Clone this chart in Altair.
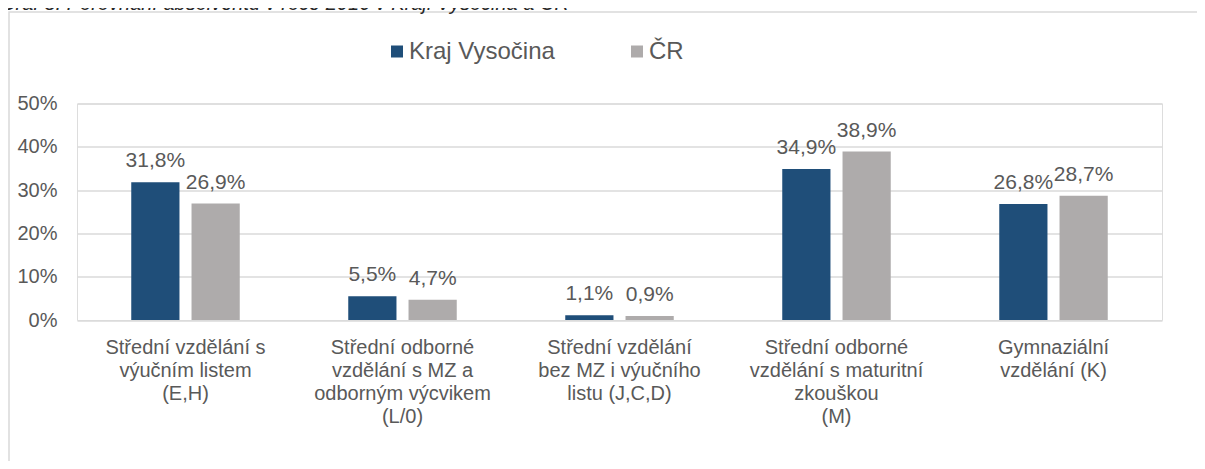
import altair as alt
import pandas as pd

# ---- data ----
categories = [
    "Střední vzdělání s|výučním listem|(E,H)",
    "Střední odborné|vzdělání s MZ a|odborným výcvikem|(L/0)",
    "Střední vzdělání|bez MZ i výučního|listu (J,C,D)",
    "Střední odborné|vzdělání s maturitní|zkouškou|(M)",
    "Gymnaziální|vzdělání  (K)",
]
series = ["Kraj Vysočina", "ČR"]
kraj_values = [31.8, 5.5, 1.1, 34.9, 26.8]
cr_values = [26.9, 4.7, 0.9, 38.9, 28.7]
y_ticks = [0, 10, 20, 30, 40, 50]
title_text = "Graf 8: Porovnání  absolventů v roce 2016 v Kraji Vysočina a ČR"
colors = ["#1F4E79", "#AEABAB"]

rows = []
for c, k, r in zip(categories, kraj_values, cr_values):
    for s, v in zip(series, [k, r]):
        rows.append({"category": c, "series": s, "value": v,
                     "label": f"{v:.1f}".replace(".", ",") + "%"})
df = pd.DataFrame(rows)

TXT = "#595959"
FONT = "Liberation Sans"

x_enc = alt.X(
    "category:N", sort=categories,
    scale=alt.Scale(paddingInner=0.5, paddingOuter=0.25),
    axis=alt.Axis(title=None, labelExpr="split(datum.label, '|')", labelAngle=0,
                  labelBaseline="top", labelAlign="center", labelPadding=17,
                  labelLineHeight=23, labelFontSize=20, labelColor=TXT, labelFont=FONT,
                  domain=False, ticks=False, tickSize=0, grid=False, labelLimit=0),
)
y_enc = alt.Y(
    "value:Q",
    scale=alt.Scale(domain=[0, 50], nice=False),
    axis=alt.Axis(title=None, values=y_ticks, labelExpr="datum.value + '%'",
                  labelFontSize=20, labelColor=TXT, labelFont=FONT, labelPadding=20,
                  domain=False, ticks=False, tickSize=0,
                  gridColor="#DADADA", gridWidth=1.5),
)
xoff = alt.XOffset("series:N", sort=series,
                   scale=alt.Scale(paddingInner=0.2, paddingOuter=0))

bars = alt.Chart(df).mark_bar().encode(
    x=x_enc, xOffset=xoff, y=y_enc,
    color=alt.Color("series:N", sort=series,
                    scale=alt.Scale(domain=series, range=colors),
                    legend=alt.Legend(title=None, orient="none", legendX=308, legendY=-64,
                                      direction="horizontal", symbolType="square",
                                      symbolSize=144, symbolStrokeWidth=0,
                                      labelFontSize=24, labelColor=TXT, labelFont=FONT,
                                      labelOffset=0, columnPadding=70, padding=0,
                                      labelLimit=0)),
)

labels = alt.Chart(df).mark_text(
    dy=-15, baseline="alphabetic", fontSize=21, color=TXT, font=FONT
).encode(x=x_enc, xOffset=xoff, y=y_enc, text="label:N")

frame_df = pd.DataFrame({"title": [title_text]})
frame = alt.Chart(frame_df).mark_rect(
    fillOpacity=0, stroke="#D9D9D9", strokeWidth=1.5
).encode(x=alt.value(-68), x2=alt.value(1122), y=alt.value(-91.5), y2=alt.value(364))

title = alt.Chart(frame_df).mark_text(
    align="left", baseline="alphabetic", fontStyle="italic", fontSize=20,
    color="#262626", font=FONT
).encode(x=alt.value(-77), y=alt.value(-94), text="title:N")

chart = alt.layer(frame, bars, labels, title).properties(
    width=1085, height=216.5,
    autosize=alt.AutoSizeParams(type="none"),
    padding={"left": 69, "top": 95.5, "right": 35, "bottom": 141},
).configure_view(stroke=None).configure(font=FONT)

chart.save("out.html", embed_options={"renderer": "svg", "actions": False})
